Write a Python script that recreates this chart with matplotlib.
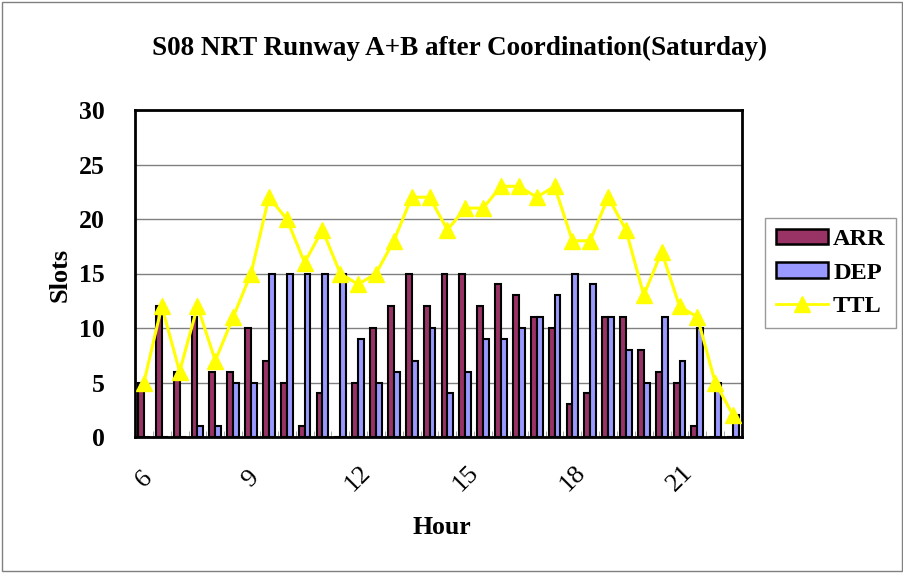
import matplotlib
matplotlib.use("Agg")
import matplotlib.pyplot as plt
import numpy as np
from matplotlib.patches import Rectangle
from matplotlib.lines import Line2D

# half-hour slots 6:00 .. 22:30
slots = ["6", "6.5", "7", "7.5", "8", "8.5", "9", "9.5", "10", "10.5", "11", "11.5",
         "12", "12.5", "13", "13.5", "14", "14.5", "15", "15.5", "16", "16.5", "17", "17.5",
         "18", "18.5", "19", "19.5", "20", "20.5", "21", "21.5", "22", "22.5"]
arr = [5, 12, 6, 11, 6, 6, 10, 7, 5, 1, 4, 0,
       5, 10, 12, 15, 12, 15, 15, 12, 14, 13, 11, 10,
       3, 4, 11, 11, 8, 6, 5, 1, 0, 0]
dep = [0, 0, 0, 1, 1, 5, 5, 15, 15, 15, 15, 15,
       9, 5, 6, 7, 10, 4, 6, 9, 9, 10, 11, 13,
       15, 14, 11, 8, 5, 11, 7, 10, 5, 2]
ttl = [5, 12, 6, 12, 7, 11, 15, 22, 20, 16, 19, 15,
       14, 15, 18, 22, 22, 19, 21, 21, 23, 23, 22, 23,
       18, 18, 22, 19, 13, 17, 12, 11, 5, 2]
tick_labels = ["6", "9", "12", "15", "18", "21"]

ARR_C = "#993366"
DEP_C = "#9999FF"
TTL_C = "#FFFF00"
FONT = "Liberation Serif"

fig = plt.figure(figsize=(9.04, 5.76), dpi=100)
fig.patch.set_facecolor("white")
fig.add_artist(Rectangle((0.002, 0.008), 0.996, 0.988, transform=fig.transFigure,
                         fill=False, edgecolor="#808080", linewidth=1.0))

ax = fig.add_axes([135/904, 1-437/576, (742-135)/904, (437-110)/576])
x = np.arange(len(slots))
w = 0.33
ax.bar(x - w/2, arr, width=w, color=ARR_C, edgecolor="black", linewidth=1.5, zorder=2)
ax.bar(x + w/2, dep, width=w, color=DEP_C, edgecolor="black", linewidth=1.5, zorder=2)
ax.plot(x, ttl, color=TTL_C, linewidth=2.2, marker="^", markersize=11,
        markerfacecolor=TTL_C, markeredgecolor=TTL_C, zorder=3, clip_on=False)

ax.set_xlim(-0.5, len(slots) - 0.5)
ax.set_ylim(0, 30)
ax.set_yticks(range(0, 31, 5))
ax.yaxis.grid(True, color="#808080", linewidth=1.0, zorder=0)
ax.set_axisbelow(True)
for s in ax.spines.values():
    s.set_linewidth(2.0)
    s.set_color("black")

ax.set_xticks(x[::6])
ax.set_xticklabels(tick_labels, rotation=45, ha="center", va="center",
                   rotation_mode="anchor", fontsize=19, fontfamily=FONT)
ax.set_xticks(np.arange(-0.5, len(slots), 1), minor=True)
ax.tick_params(axis="x", which="major", length=0, pad=30)
ax.tick_params(axis="x", which="minor", length=4, direction="in", color="#999999")
ax.tick_params(axis="y", length=0, pad=22)
for t in ax.get_yticklabels():
    t.set_fontfamily(FONT)
    t.set_fontweight("bold")
    t.set_fontsize(18.5)

fig.text(460/904, 1-48/576, "S08 NRT Runway A+B after Coordination(Saturday)",
         ha="center", va="center", fontsize=19.5, fontweight="bold", fontfamily=FONT)
fig.text(442/904, 1-527/576, "Hour", ha="center", va="center",
         fontsize=18.5, fontweight="bold", fontfamily=FONT)
fig.text(60/904, 1-275/576, "Slots", ha="center", va="center", rotation=90,
         fontsize=19, fontweight="bold", fontfamily=FONT)

handles = [Rectangle((0, 0), 1, 1, facecolor=ARR_C, edgecolor="black", linewidth=1.8),
           Rectangle((0, 0), 1, 1, facecolor=DEP_C, edgecolor="black", linewidth=1.8),
           Line2D([], [], color=TTL_C, linewidth=2, marker="^", markersize=11,
                  markerfacecolor=TTL_C, markeredgecolor=TTL_C)]
leg = fig.legend(handles, ["ARR", "DEP", "TTL"], loc="upper left",
                 bbox_to_anchor=(765/904, 1-218/576), frameon=True, fancybox=False,
                 edgecolor="#808080", prop={"family": FONT, "weight": "bold", "size": 17.5},
                 handlelength=2.15, handleheight=0.6, handletextpad=0.2,
                 labelspacing=0.5, borderpad=0.45, borderaxespad=0)
leg.get_frame().set_linewidth(1.0)

fig.savefig("out.png", dpi=100)
